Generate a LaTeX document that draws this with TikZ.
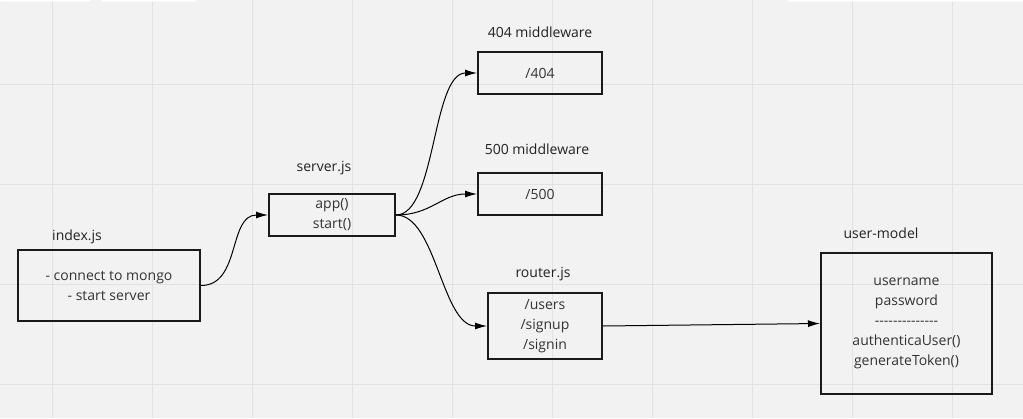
\documentclass[tikz,border=0pt]{standalone}
\usepackage{fontspec}
\setmainfont{Open Sans}
\usetikzlibrary{arrows.meta}
\definecolor{bgc}{HTML}{F2F2F2}
\definecolor{gridc}{HTML}{E2E2E2}
\definecolor{txt}{HTML}{333333}
\definecolor{lbl}{HTML}{222222}
\definecolor{boxc}{HTML}{1A1A1A}
\begin{document}
\begin{tikzpicture}[x=1pt,y=-1pt,
  box/.style={draw=boxc,line width=2pt,inner sep=0pt,anchor=north west,align=center,text=txt,
    font=\fontsize{14}{20}\selectfont},
  lab/.style={text=lbl,inner sep=0pt,font=\fontsize{14}{20}\selectfont},
  conn/.style={line width=1pt,draw=black,-{Latex[length=12pt,width=7pt]}}]
\useasboundingbox (0,0) rectangle (1023,418);
\fill[bgc] (0,0) rectangle (1023,418);
\foreach \x in {52,152,...,952} \draw[gridc,line width=1pt] (\x,0) -- (\x,418);
\foreach \y in {84,184,284,384} \draw[gridc,line width=1pt] (0,\y) -- (1023,\y);
\fill[white,rounded corners=1pt] (0,-2) rectangle (90,1.7);
\fill[white,rounded corners=1pt] (101,-2) rectangle (196,1.7);
\fill[white,rounded corners=1pt] (788,-2) rectangle (1025,1.7);
% boxes
\node[box,minimum width=182pt,minimum height=71pt] (index) at (17,249) {- connect to mongo\\- start server};
\node[box,minimum width=126pt,minimum height=42pt] (server) at (268,193) {app()\\start()};
\node[box,minimum width=124pt,minimum height=42pt] (e404) at (477,51) {/404};
\node[box,minimum width=124pt,minimum height=42pt] (e500) at (477,172) {/500};
\node[box,minimum width=114pt,minimum height=66pt] (router) at (487,292) {/users\\/signup\\/signin};
\node[box,minimum width=171pt,minimum height=141pt] (um) at (820,252) {username\\password\\-{}-{}-{}-{}-{}-{}-{}-{}-{}-{}-{}-{}-{}-\\authenticaUser()\\generateToken()};
% labels
\node[lab] (indexlab) at (77,237) {index.js};
\node[lab] (serverlab) at (324,168) {server.js};
\node[lab] (lab404) at (540,32) {404 middleware};
\node[lab] (lab500) at (537,149) {500 middleware};
\node[lab] (routerlab) at (543,274) {router.js};
\node[lab] (umlab) at (881,233) {user-model};
% connectors
\draw[conn] (index.east) .. controls +(40,0) and +(-40,0) .. (server.west);
\draw[conn] (server.east) .. controls +(40,0) and +(-45,0) .. (e404.west);
\draw[conn] (server.east) .. controls +(35,0) and +(-35,0) .. (e500.west);
\draw[conn] (server.east) .. controls +(40,0) and +(-45,0) .. (router.west);
\draw[conn] (router.east) -- (um.west);
\end{tikzpicture}
\end{document}
